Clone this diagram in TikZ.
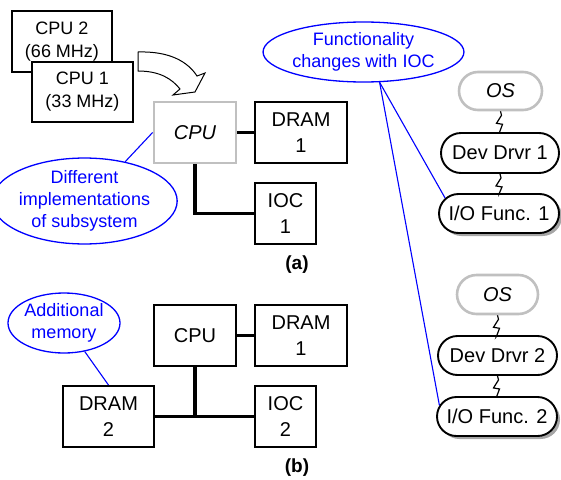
\documentclass[tikz,border=0pt]{standalone}
\usepackage{fontspec}
\setmainfont{Liberation Sans}
\usetikzlibrary{shapes.geometric,shapes.misc,shadows}
\definecolor{boxgray}{RGB}{192,192,192}
\definecolor{noteblue}{RGB}{0,0,255}
\begin{document}
\begin{tikzpicture}[x=1pt,y=-1pt,
  box/.style={draw=black,line width=1.9pt,fill=white,inner sep=0pt,align=center,
    font=\fontsize{20}{26}\selectfont},
  cpubox/.style={box,font=\fontsize{18}{23}\selectfont},
  ghostbox/.style={box,draw=boxgray,line width=2.8pt,font=\fontsize{20}{26}\selectfont\itshape},
  note/.style={ellipse,draw=noteblue,line width=1.3pt,inner sep=0pt,align=center,
    text=noteblue,font=\fontsize{18}{22}\selectfont},
  noteline/.style={draw=noteblue,line width=1.1pt},
  bus/.style={line width=3.2pt,line join=miter},
  thinbus/.style={line width=2.2pt},
  pill/.style={rounded rectangle,draw=black,line width=1.9pt,fill=white,inner sep=0pt,
    minimum height=39,font=\fontsize{20}{24}\selectfont},
  ospill/.style={pill,draw=boxgray,line width=2.6pt,font=\fontsize{20}{24}\selectfont\itshape},
  shadowed/.style={drop shadow={shadow xshift=3pt,shadow yshift=-3pt,fill=black!35,opacity=1}},
  zig/.style={line width=1.2pt},
  sublabel/.style={font=\fontsize{19}{22}\selectfont\bfseries}
]
\useasboundingbox (0,0) rectangle (561,479);

% ---------- (a) ----------
\node[cpubox,minimum width=100,minimum height=61] (cpu2) at (62,41.5) {CPU 2\\(66 MHz)};
\node[cpubox,minimum width=101,minimum height=60] (cpu1) at (82.5,92) {CPU 1\\(33 MHz)};

% curved block arrow
\draw[line width=1pt,fill=white,line join=miter]
  (138,52) .. controls (170,51) and (188,62) .. (197,76)
  -- (205,73) -- (195,92) -- (173,95) -- (180,89)
  .. controls (172,79) and (160,71) .. (138,71) -- cycle;

\node[ghostbox,minimum width=82,minimum height=61] (cpuA) at (195,132.5) {CPU};
\node[box,minimum width=92,minimum height=61] (dramA) at (301,132.5) {DRAM\\1};
\node[box,minimum width=61,minimum height=61] (iocA) at (285.5,213.5) {IOC\\1};
\draw[bus] (cpuA.east) -- (dramA.west);
\draw[bus] (cpuA.south) |- (iocA.west);

\node[note,minimum width=163,minimum height=76] (notA) at (84.5,201)
  {\rule{0pt}{6pt}Different\\implementations\\of subsystem};
\draw[noteline] (notA.44) -- (cpuA.west);

\node[sublabel] (labA) at (297,265) {(a)};

% ---------- (b) ----------
\node[box,minimum width=82,minimum height=61] (cpuB) at (195,335.5) {CPU};
\node[box,minimum width=92,minimum height=61] (dramB1) at (301,335.5) {DRAM\\1};
\node[box,minimum width=91,minimum height=61] (dramB2) at (108.5,416.5) {DRAM\\2};
\node[box,minimum width=61,minimum height=61] (iocB) at (285.5,416.5) {IOC\\2};
\coordinate (junc) at (cpuB.south |- iocB.west);
\draw[bus] (cpuB.east) -- (dramB1.west);
\draw[thinbus] (dramB2.east) -- (junc);
\draw[bus] (cpuB.south) -- (junc) -- (iocB.west);

\node[note,minimum width=112,minimum height=60] (notB) at (64,323) {Additional\\memory};
\draw[noteline] (notB.-54) -- (dramB2.north);

\node[sublabel] (labB) at (297,468) {(b)};

% ---------- software stacks ----------
\node[ospill,minimum width=83,minimum height=38] (os1) at (500.5,91) {OS};
\node[pill,minimum width=118,minimum height=40] (dd1) at (500,153) {Dev Drvr 1};
\node[pill,shadowed,minimum width=120] (io1) at (499,213.5) {I/O Func. 1};

\node[ospill,minimum width=81] (os2) at (497.5,294.5) {OS};
\node[pill,minimum width=119] (dd2) at (497.5,355.5) {Dev Drvr 2};
\node[pill,shadowed,minimum width=120] (io2) at (497,416.5) {I/O Func. 2};

\draw[zig] (os1.south) -- ++(1,4) -- ++(-5,8) -- ++(6,1) -- ++(-3,8) -- (dd1.north);
\draw[zig] (dd1.south) -- ++(1,4) -- ++(-5,8) -- ++(6,1) -- ++(-3,7) -- (io1.north);
\draw[zig] (os2.south) -- ++(1,4) -- ++(-5,8) -- ++(6,1) -- ++(-3,8) -- (dd2.north);
\draw[zig] (dd2.south) -- ++(1,4) -- ++(-5,8) -- ++(6,1) -- ++(-3,8) -- (io2.north);

\node[note,minimum width=187,minimum height=60] (notF) at (363.5,52)
  {Functionality\\changes with IOC};
\draw[noteline] (notF.-62) -- (io1.164);
\draw[noteline] (notF.-62) -- (io2.169);
\end{tikzpicture}
\end{document}
